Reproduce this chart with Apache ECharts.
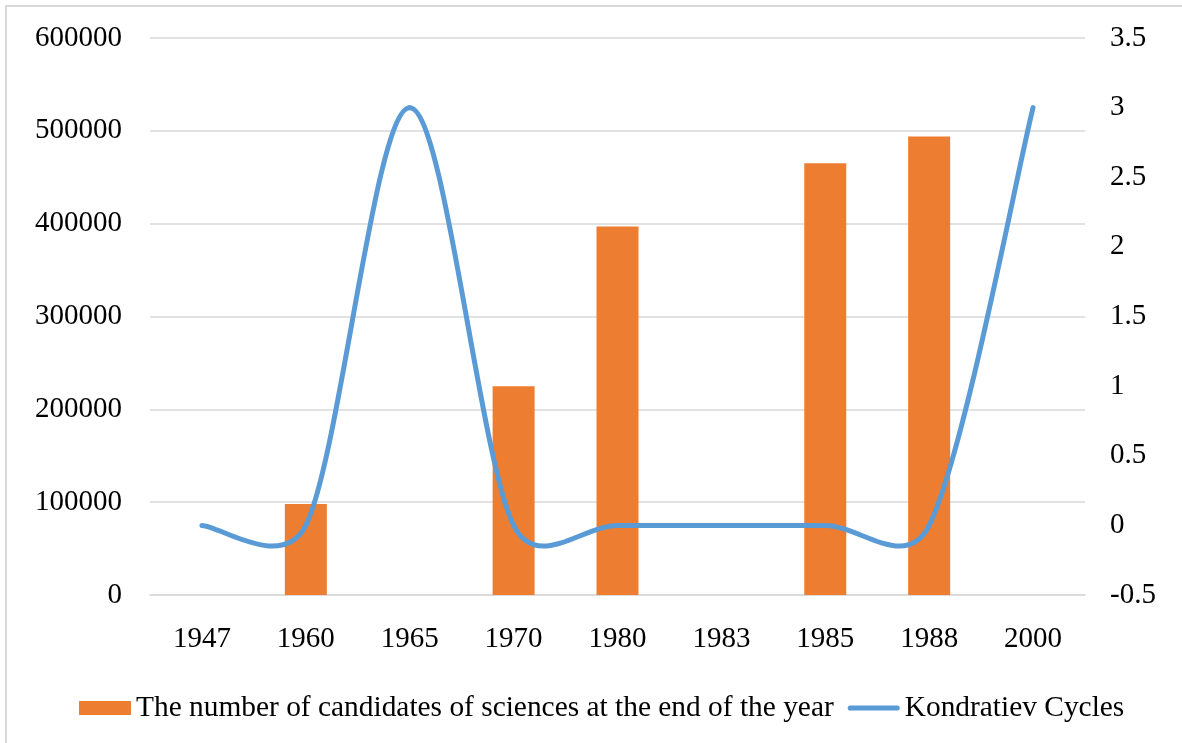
<!DOCTYPE html>
<html>
<head>
<meta charset="utf-8">
<script src="https://cdn.jsdelivr.net/npm/echarts@6/dist/echarts.min.js"></script>
<style>
  html, body { margin: 0; padding: 0; background: #fff; overflow: hidden; }
  #frame { position: absolute; left: 5px; top: 5px; width: 1200px; height: 760px; border: 2px solid #D9D9D9; box-sizing: border-box; }
  #chart { position: absolute; left: 0; top: 0; width: 1182px; height: 743px; }
</style>
</head>
<body>
<div id="frame"></div>
<div id="chart"></div>
<script>
const categories = ['1947', '1960', '1965', '1970', '1980', '1983', '1985', '1988', '2000'];
const candidates = [null, 98000, null, 225000, 397000, null, 465000, 494000, null];
const kondratiev = [0, 0, 3, 0, 0, 0, 0, 0, 3];
const barName = 'The number of candidates of sciences at the end of the year';
const lineName = 'Kondratiev Cycles';

const font = 'Liberation Serif';
const FS = 29;
const lineColor = '#5B9BD5';

// Spreadsheet-style smoothed line: cubic Bezier segments through the points
function renderSmoothLine(params, api) {
  if (params.dataIndex !== 0) return null;
  const n = kondratiev.length;
  const pts = [];
  for (let i = 0; i < n; i++) pts.push(api.coord([api.value(0, i), api.value(1, i)]));
  const dist = (a, b) => Math.hypot(a[0] - b[0], a[1] - b[1]);
  const children = [];
  for (let i = 0; i < n - 1; i++) {
    const P1 = pts[i], P2 = pts[i + 1];
    const P0 = i > 0 ? pts[i - 1] : P1;
    const P3 = i < n - 2 ? pts[i + 2] : P2;
    const d12 = dist(P1, P2), d02 = dist(P0, P2), d13 = dist(P1, P3);
    let f = 1 / 6, g = 1 / 6;
    if (d02 > 0 && d02 / 6 >= d12 / 2) f = d12 / (2 * d02);
    if (d13 > 0 && d13 / 6 >= d12 / 2) g = d12 / (2 * d13);
    children.push({
      type: 'bezierCurve',
      shape: {
        x1: P1[0], y1: P1[1],
        cpx1: P1[0] + f * (P2[0] - P0[0]), cpy1: P1[1] + f * (P2[1] - P0[1]),
        cpx2: P2[0] - g * (P3[0] - P1[0]), cpy2: P2[1] - g * (P3[1] - P1[1]),
        x2: P2[0], y2: P2[1]
      },
      style: { stroke: lineColor, lineWidth: 5, fill: null, lineCap: 'round', lineJoin: 'round' }
    });
  }
  return { type: 'group', children: children };
}

const chart = echarts.init(document.getElementById('chart'), null, { renderer: 'canvas' });
chart.setOption({
  animation: false,
  textStyle: { fontFamily: font, color: '#000' },
  grid: { left: 150, right: 97, top: 38, bottom: 148, containLabel: false },
  legend: {
    left: 79, top: 693, padding: 0,
    itemWidth: 52, itemHeight: 14, itemGap: 14,
    textStyle: { fontFamily: font, fontSize: 29.4, color: '#000', lineHeight: 30 },
    data: [
      { name: barName, icon: 'rect', itemStyle: { color: '#ED7D31' } },
      { name: lineName, icon: 'path://M2.5,0 L47.5,0 A2.5,2.5 0 0 1 47.5,5 L2.5,5 A2.5,2.5 0 0 1 2.5,0 Z', itemStyle: { color: lineColor } }
    ]
  },
  xAxis: {
    type: 'category',
    data: categories,
    axisLine: { lineStyle: { color: '#D9D9D9', width: 1.5 } },
    axisTick: { show: false },
    axisLabel: { fontFamily: font, fontSize: FS, color: '#000', margin: 30 }
  },
  yAxis: [
    {
      type: 'value', min: 0, max: 600000, interval: 100000,
      axisLine: { show: false }, axisTick: { show: false },
      axisLabel: { fontFamily: font, fontSize: FS, color: '#000', margin: 28, formatter: v => String(v) },
      splitLine: { lineStyle: { color: '#D9D9D9', width: 1.5 } }
    },
    {
      type: 'value', min: -0.5, max: 3.5, interval: 0.5,
      axisLine: { show: false }, axisTick: { show: false },
      axisLabel: { fontFamily: font, fontSize: FS, color: '#000', margin: 25, formatter: v => String(v) },
      splitLine: { show: false }
    }
  ],
  series: [
    {
      name: barName, type: 'bar', data: candidates, barWidth: 42,
      itemStyle: { color: '#ED7D31' }, z: 2
    },
    {
      name: lineName, type: 'custom', yAxisIndex: 1,
      data: kondratiev.map((v, i) => [i, v]),
      encode: { x: 0, y: 1 },
      renderItem: renderSmoothLine,
      itemStyle: { color: lineColor }, z: 3, clip: false
    }
  ]
});
</script>
</body>
</html>
